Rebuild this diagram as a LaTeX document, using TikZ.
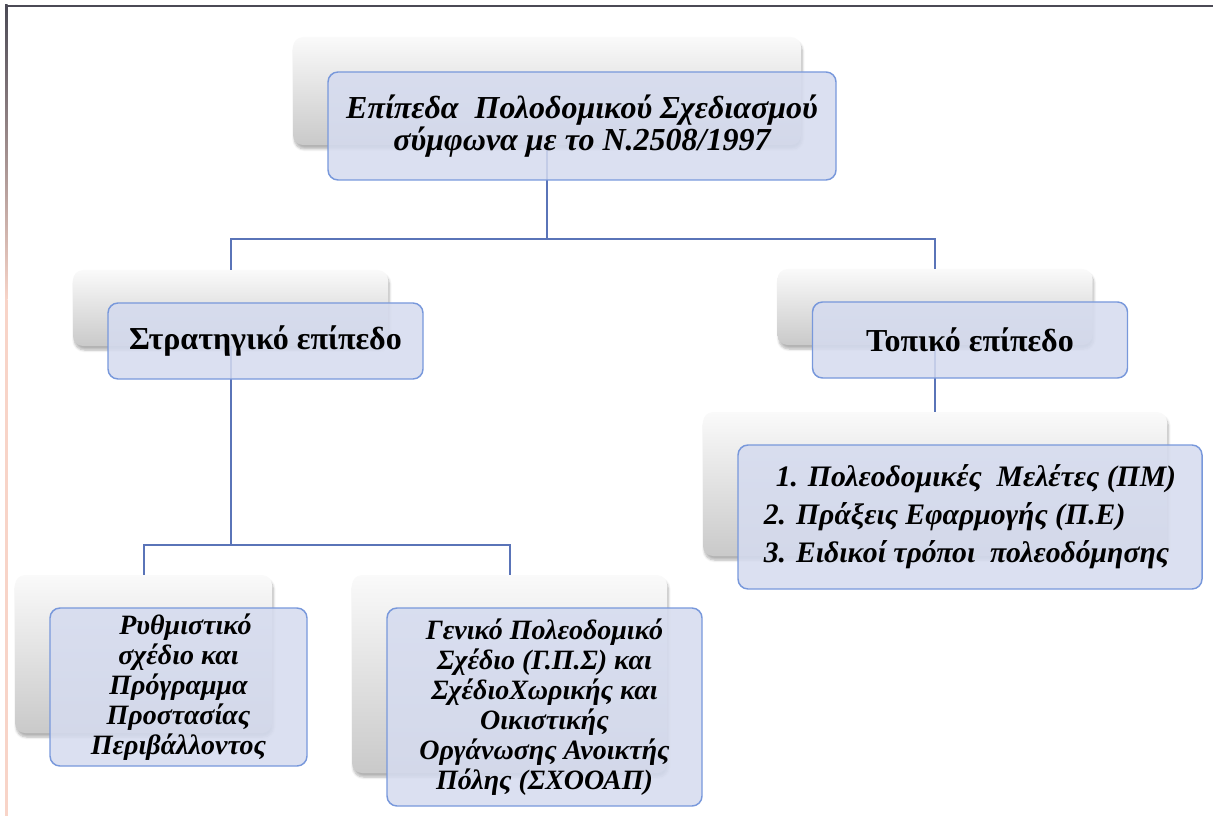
\documentclass[tikz,border=0pt]{standalone}
\usepackage{fontspec}
\setmainfont{Liberation Serif}
\usetikzlibrary{shadows.blur}

\definecolor{boxfill}{RGB}{213,219,239}
\definecolor{boxline}{RGB}{120,152,219}
\definecolor{linkcol}{RGB}{90,116,184}
\definecolor{framedark}{RGB}{75,74,85}
\definecolor{framepink}{RGB}{248,212,200}

\begin{document}
\begin{tikzpicture}[x=0.75pt, y=-0.75pt,
    back/.style = {rounded corners=7.5pt, top color=gray!4, bottom color=gray!42,
        blur shadow={shadow xshift=1pt, shadow yshift=-3pt, shadow opacity=30, shadow blur steps=6},
        inner sep=0pt},
    front/.style = {draw=boxline, line width=1.1pt, fill=boxfill, fill opacity=.86, text opacity=1,
        rounded corners=7.5pt, align=center, inner sep=0pt},
    link/.style = {draw=linkcol, line width=1.5pt},
    bi/.style = {font=\bfseries\itshape\fontsize{21}{22.5}\selectfont}]

    \useasboundingbox (0,0) rectangle (1213,816);
    % frame
    \draw[framedark, line width=1.6pt] (5,6) -- (1213,6);
    \shade[top color=framedark, bottom color=framepink] (5,5) rectangle (7.5,300);
    \fill[framepink] (5,300) rectangle (7.5,816);

    % grey boxes behind
    \node[back, minimum width=381pt, minimum height=81pt] (top) at (547,91) {};
    \node[back, minimum width=236.25pt, minimum height=57pt] (strat) at (230.5,308) {};
    \node[back, minimum width=236.25pt, minimum height=57pt] (topic) at (935,307) {};
    \node[back, minimum width=348pt, minimum height=108pt] (list) at (935,484) {};
    \node[back, minimum width=192.75pt, minimum height=118.5pt] (rythm) at (143.5,654) {};
    \node[back, minimum width=236.25pt, minimum height=148.5pt] (gps) at (509.5,674) {};

    \draw[link] (top.south) -- ++(0,94) -| (strat.north);
    \draw[link] (top.south) -- ++(0,94) -| (topic.north);
    \draw[link] (strat.south) -- ++(0,199) -| (rythm.north);
    \draw[link] (strat.south) -- ++(0,199) -| (gps.north);
    \draw[link] (topic.south) -- (list.north);

    % blue boxes in front
    \node[front, minimum width=381pt, minimum height=81pt,
        font=\bfseries\itshape\fontsize{24}{24}\selectfont] (topf) at ([shift={(35,35)}]top.center)
        {Επίπεδα\ \ Πολοδομικού Σχεδιασμού\\σύμφωνα με το Ν.2508/1997};
    \node[front, minimum width=236.25pt, minimum height=57pt,
        font=\bfseries\fontsize{24}{24}\selectfont] (stratf) at ([shift={(35,33)}]strat.center)
        {Στρατηγικό επίπεδο};
    \node[front, minimum width=236.25pt, minimum height=57pt,
        font=\bfseries\fontsize{24}{24}\selectfont] (topicf) at ([shift={(35,33)}]topic.center)
        {Τοπικό επίπεδο};
    \node[front, minimum width=348pt, minimum height=108pt, align=left,
        font=\bfseries\itshape\fontsize{22.3}{28.5}\selectfont] (listf) at ([shift={(35,33)}]list.center)
        {\hspace{0.4em}1. Πολεοδομικές\ \ Μελέτες (ΠΜ)\\2. Πράξεις Εφαρμογής (Π.Ε)\\3. Ειδικοί τρόποι\ \ πολεοδόμησης};
    \node[front, bi, minimum width=192.75pt, minimum height=118.5pt] (rythmf) at ([shift={(35,33)}]rythm.center)
        {\hspace{0.5em}Ρυθμιστικό\\σχέδιο και\\Πρόγραμμα\\Προστασίας\\Περιβάλλοντος};
    \node[front, bi, minimum width=236.25pt, minimum height=148.5pt] (gpsf) at ([shift={(35,33)}]gps.center)
        {Γενικό Πολεοδομικό\\Σχέδιο (Γ.Π.Σ) και\\ΣχέδιοΧωρικής και\\Οικιστικής\\Οργάνωσης Ανοικτής\\Πόλης (ΣΧΟΟΑΠ)};
\end{tikzpicture}
\end{document}
